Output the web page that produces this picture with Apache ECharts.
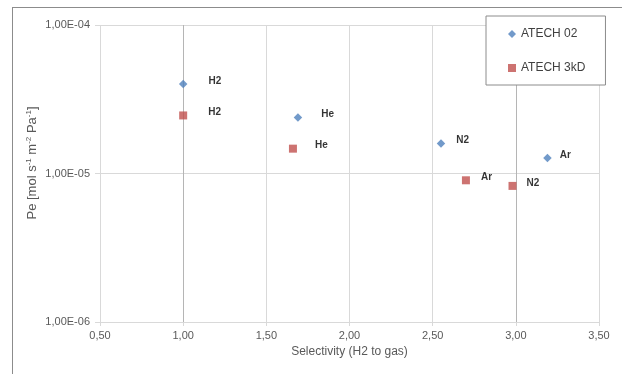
<!DOCTYPE html>
<html>
<head>
<meta charset="utf-8">
<script src="https://cdn.jsdelivr.net/npm/echarts@6/dist/echarts.min.js"></script>
<style>
  html, body { margin: 0; padding: 0; background: #fff; }
  #main { width: 622px; height: 374px; }
</style>
</head>
<body>
<div id="main"></div>
<script>
// data
var gases02 = ['H2', 'He', 'N2', 'Ar'];
var sel02 = [1.00, 1.69, 2.55, 3.19];
var pe02 = [4.0e-5, 2.38e-5, 1.59e-5, 1.27e-5];

var gases3k = ['H2', 'He', 'Ar', 'N2'];
var sel3k = [1.00, 1.66, 2.70, 2.98];
var pe3k = [2.46e-5, 1.47e-5, 9.0e-6, 8.25e-6];

// label gaps (style only)
var gap02 = [21, 19, 11, 8];
var gap3k = [21, 18, 11, 10];

function pts(sel, pe, names, gaps) {
  var out = [];
  for (var i = 0; i < sel.length; i++) {
    out.push({ value: [sel[i], pe[i]], name: names[i], label: { distance: gaps[i] } });
  }
  return out;
}

function fmtE(v) {
  var s = v.toExponential(2).replace('.', ',');
  var p = s.split('e');
  var e = parseInt(p[1], 10);
  var sign = e < 0 ? '-' : '+';
  var a = Math.abs(e);
  return p[0] + 'E' + sign + (a < 10 ? '0' + a : a);
}

var dom = document.getElementById('main');
var myChart = echarts.init(dom);
var font = '"Liberation Sans", Arial, sans-serif';
var gridCol = '#d9d9d9';
var diamond = 'path://M5,0 L10,5 L5,10 L0,5 Z';

var option = {
  animation: false,
  textStyle: { fontFamily: font },
  grid: { left: 100, right: 23, top: 25, bottom: 52 },
  legend: {
    orient: 'vertical',
    left: 486, top: 16,
    padding: [12, 20, 11, 22],
    itemGap: 22,
    itemWidth: 8, itemHeight: 8,
    backgroundColor: '#fff',
    borderColor: '#8c8c8c', borderWidth: 1,
    textStyle: { fontSize: 12, color: '#404040', fontFamily: font },
    data: [
      { name: 'ATECH 02', icon: diamond, itemStyle: { color: '#4f81bd' } },
      { name: 'ATECH 3kD', icon: 'rect' }
    ]
  },
  xAxis: {
    type: 'value', min: 0.5, max: 3.5, interval: 0.5,
    name: 'Selectivity (H2 to gas)', nameLocation: 'middle', nameGap: 24,
    nameTextStyle: { fontSize: 12, color: '#595959' },
    axisLine: { show: true, lineStyle: { color: gridCol } },
    axisTick: { show: true, length: 4, lineStyle: { color: gridCol } },
    axisLabel: { fontSize: 11, color: '#595959', margin: 8,
      formatter: function (v) { return v.toFixed(2).replace('.', ','); } },
    splitLine: { show: true, lineStyle: { color: [gridCol, '#b5b5b5', gridCol, gridCol, gridCol, '#b5b5b5', gridCol], width: 1 } }
  },
  yAxis: {
    type: 'log', logBase: 10, min: 1e-6, max: 1e-4,
    axisLine: { show: false },
    axisTick: { show: true, length: 5, lineStyle: { color: gridCol } },
    axisLabel: { fontSize: 11, color: '#595959', margin: 10, formatter: fmtE },
    splitLine: { show: true, lineStyle: { color: gridCol } }
  },
  graphic: [
    { type: 'line', shape: { x1: 12, y1: 7.5, x2: 622, y2: 7.5 }, style: { stroke: '#8c8c8c', lineWidth: 1 } },
    { type: 'line', shape: { x1: 12.5, y1: 7, x2: 12.5, y2: 374 }, style: { stroke: '#8c8c8c', lineWidth: 1 } },
    { type: 'text', x: 32, y: 163, rotation: Math.PI / 2,
      style: { text: 'Pe [mol s{sup|-1} m{sup|-2} Pa{sup|-1}]', fontSize: 13, fill: '#595959', fontFamily: font,
        textAlign: 'center', textVerticalAlign: 'middle',
        rich: { sup: { fontSize: 8, fill: '#595959', fontFamily: font, verticalAlign: 'top', padding: [0, 0, 6, 0] } } } }
  ],
  series: [
    {
      name: 'ATECH 02', type: 'scatter',
      symbol: 'rect', symbolRotate: 45, symbolSize: 6,
      itemStyle: { color: '#4f81bd' },
      label: { show: true, position: 'right', offset: [0, -3], formatter: '{b}',
        fontSize: 10, fontWeight: 'bold', color: '#000' },
      data: pts(sel02, pe02, gases02, gap02)
    },
    {
      name: 'ATECH 3kD', type: 'scatter',
      symbol: 'rect', symbolSize: 8,
      itemStyle: { color: '#c0504d' },
      label: { show: true, position: 'right', offset: [0, -3], formatter: '{b}',
        fontSize: 10, fontWeight: 'bold', color: '#000' },
      data: pts(sel3k, pe3k, gases3k, gap3k)
    }
  ]
};
myChart.setOption(option);
</script>
</body>
</html>
